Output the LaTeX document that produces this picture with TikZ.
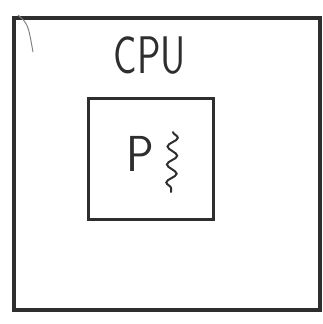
\documentclass[tikz,border=0pt]{standalone}
\usepackage{xcolor}
\usetikzlibrary{positioning,decorations.pathmorphing}
\definecolor{cink}{HTML}{2E2E2E}
\tikzset{
  box/.style={rectangle, draw=cink, line width=3.4pt, inner sep=0pt},
  lbl/.style={font=\sffamily\fontsize{46}{46}\selectfont, text=cink, inner sep=0pt},
  thread/.style={draw=cink, line width=2pt, line cap=round, decorate,
    decoration={snake, amplitude=5pt, segment length=18pt}},
  stray/.style={draw=cink!60, line width=1pt},
}
\begin{document}
\begin{tikzpicture}[x=1pt,y=-1pt]
  \useasboundingbox (0,0) rectangle (322,324);
  \node[box, minimum width=306pt, minimum height=292pt] (cpu) at (167,164) {};
  \node[lbl, xscale=0.85, yscale=1.15] (cpulbl) at (150,56) {CPU};
  \node[box, minimum width=125pt, minimum height=121pt] (proc) at (151,159) {};
  \node[lbl, yscale=1.1] (pname) at (140,154) {P};
  \coordinate (ttop) at (173,132);
  \coordinate (tbot) at (171,192);
  \coordinate (hookstart) at (18,15);
  \coordinate (hook) at (33,52);
  \draw[thread] (ttop) -- (tbot);
  \draw[stray] (hookstart) .. controls (28,24) .. (hook);
\end{tikzpicture}
\end{document}
